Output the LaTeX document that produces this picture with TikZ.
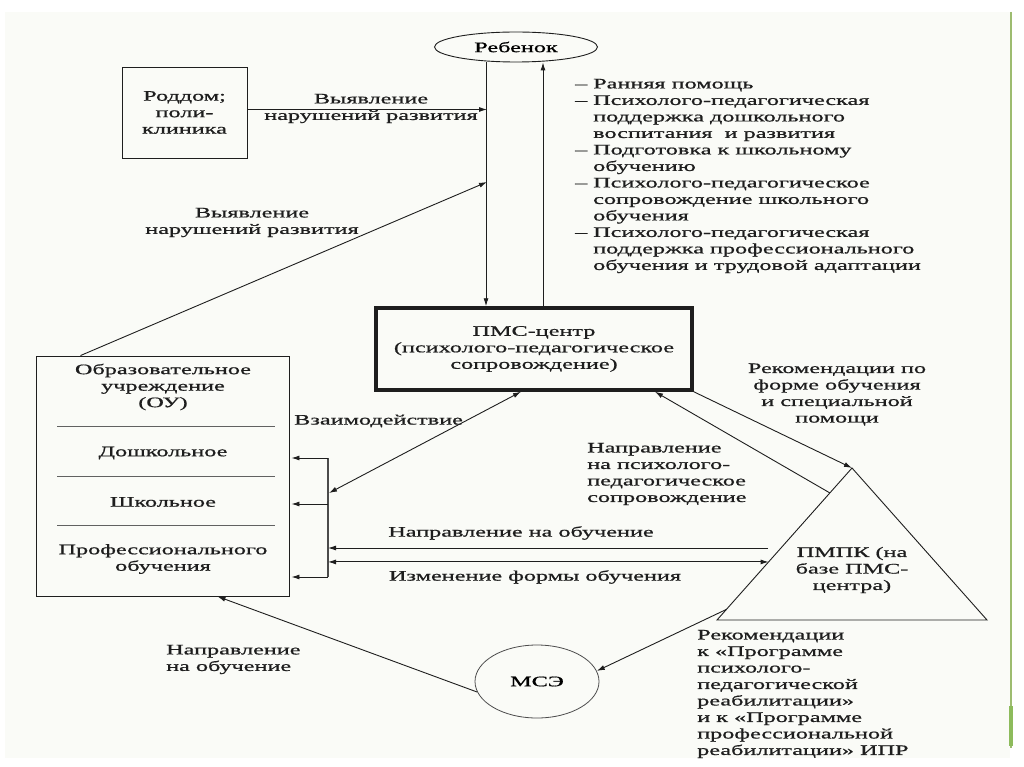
\documentclass[tikz,border=0pt]{standalone}
\usepackage{fontspec}
\setmainfont{Liberation Serif}[FakeStretch=1.67,FakeBold=0.8]
\usetikzlibrary{calc,arrows.meta,shapes.geometric}
\newcommand{\txtsize}{\fontsize{14.5}{16.5}\selectfont}
\newcommand{\dsh}{\makebox[18pt][l]{–}}
\newcommand{\ind}{\hspace*{18pt}}
\definecolor{ink}{HTML}{1E1E1E}
\definecolor{slide}{HTML}{FAFBF7}
\definecolor{rim}{HTML}{9DBC70}
\definecolor{rimdark}{HTML}{8DBB5C}
\tikzset{
  arr/.style={-{Latex[length=8pt,width=5pt]}, line width=.9pt, draw=ink},
  arrs/.style={{Latex[length=8pt,width=5pt]}-{Latex[length=8pt,width=5pt]}, line width=.9pt, draw=ink},
  lbl/.style={font=\txtsize, text=ink, inner sep=0pt, align=center},
}
\begin{document}
\begin{tikzpicture}[x=1pt,y=-1pt]
  \useasboundingbox (0,0) rectangle (1024,767);
  \fill[white] (0,0) rectangle (1024,767);
  \fill[slide] (5,12) rectangle (1010,758);
  \draw[rim, line width=2.4pt] (1011,12) -- (1011,748);
  \draw[rimdark, line width=3.5pt] (1011,706) -- (1011,746);

  % boxes
  \node (child) at (516,47) [draw=ink, line width=.9pt, ellipse, minimum width=163, minimum height=30, inner sep=0pt, font=\txtsize] {Ребенок};
  \node (roddom) at (184.5,112.5) [draw=ink, line width=.9pt, minimum width=125, minimum height=91, lbl] {Роддом;\\ поли-\\ клиника};
  \node (pms) at (534,349) [draw=ink, line width=3.5pt, minimum width=316, minimum height=82, lbl] {ПМС-центр\\ (психолого-педагогическое\\ сопровождение)};
  \node (ou) at (162.5,476) [draw=ink, line width=.9pt, minimum width=253, minimum height=240] {};
  \node (outitle) at (163,387) [lbl] {Образовательное\\ учреждение\\ (ОУ)};
  \node (oupre) at (163,453) [lbl] {Дошкольное};
  \node (ousch) at (163,502) [lbl] {Школьное};
  \node (ouprof) at (163,559) [lbl] {Профессионального\\ обучения};
  \foreach \y in {426,476,525}
    \draw[ink!70, line width=.7pt] (57,\y) -- (275,\y);

  \coordinate (apex) at (852,468);
  \coordinate (tl) at (717,620);
  \coordinate (tr) at (987,620);
  \draw[ink, line width=.9pt] (apex) -- (tl) -- (tr) -- cycle;
  \node (pmpk) at (852,570) [lbl] {ПМПК (на\\ базе ПМС-\\ центра)};
  \node (mse) at (537,681.5) [draw=ink!80, line width=.8pt, ellipse, minimum width=124, minimum height=73, inner sep=0pt, font=\txtsize] {МСЭ};

  % labels
  \node (lbfind) at (371,108.5) [lbl] {Выявление\\ нарушений развития};
  \node (lbfindou) at (252,222.5) [lbl] {Выявление\\ нарушений развития};
  \node (lbhelp) at (575,176) [lbl, anchor=west, align=left] {\dsh Ранняя помощь\\
    \dsh Психолого-педагогическая\\ \ind поддержка дошкольного\\ \ind воспитания \ и развития\\
    \dsh Подготовка к школьному\\ \ind обучению\\
    \dsh Психолого-педагогическое\\ \ind сопровождение школьного\\ \ind обучения\\
    \dsh Психолого-педагогическая\\ \ind поддержка профессионального\\ \ind обучения и трудовой адаптации};
  \node (lbrec) at (837,394.5) [lbl] {Рекомендации по\\ форме обучения\\ и специальной\\ помощи};
  \node (lbsend) at (587,474) [lbl, anchor=west, align=left] {Направление\\ на психолого-\\ педагогическое\\ сопровождение};
  \node (lbinter) at (294,421) [lbl, anchor=west] {Взаимодействие};
  \node (lbstudy) at (521,533) [lbl] {Направление на обучение};
  \node (lbchange) at (535,577) [lbl] {Изменение формы обучения};
  \node (lbstudy2) at (166,659.5) [lbl, anchor=west, align=left] {Направление\\ на обучение};
  \node (lbipr) at (697,694) [lbl, anchor=west, align=left] {Рекомендации\\ к «Программе\\ психолого-\\ педагогической\\ реабилитации»\\ и к «Программе\\ профессиональной\\ реабилитации» ИПР};

  % connectors
  \coordinate (hit1) at (487,109.5);
  \coordinate (hit2) at (487,182);
  \draw[arr] ([xshift=-30]child.south) -- ([xshift=-48]pms.north);
  \draw[arr] ([xshift=9]pms.north) -- ([xshift=27]child.south);
  \draw[arr] ([yshift=3]roddom.east) -- (hit1);
  \draw[arr] ([xshift=-82]ou.north) -- (hit2);
  \draw[arr] (pms.south east) -- (apex);

  \coordinate (bt) at (328,458);
  \coordinate (bm) at (328,504);
  \coordinate (bb) at (328,577);
  \draw[ink!80, line width=1.6pt] (bt) -- (bb);
  \foreach \p in {bt,bm,bb}
    \draw[arr, shorten >=2pt] (\p) -- (\p -| ou.east);

  \coordinate (bv) at (329,493);
  \draw[arrs] (bv) -- ([xshift=-13]pms.south);
  \coordinate (tn) at (768,548);
  \draw[arr] (tn) -- (tn -| bt);
  \coordinate (ti) at ($(apex)!0.618!(tl)$);
  \draw[arrs] (ti) -- (ti -| bt);
  \coordinate (tp) at ($(apex)!0.164!(tl)$);
  \draw[arr] (tp) -- ([xshift=121]pms.south);
  \coordinate (tm) at ($(apex)!0.93!(tl)$);
  \draw[arr] (tm) -- (mse.10);
  \draw[arr] (mse.190) -- ([xshift=55]ou.south);
\end{tikzpicture}
\end{document}
